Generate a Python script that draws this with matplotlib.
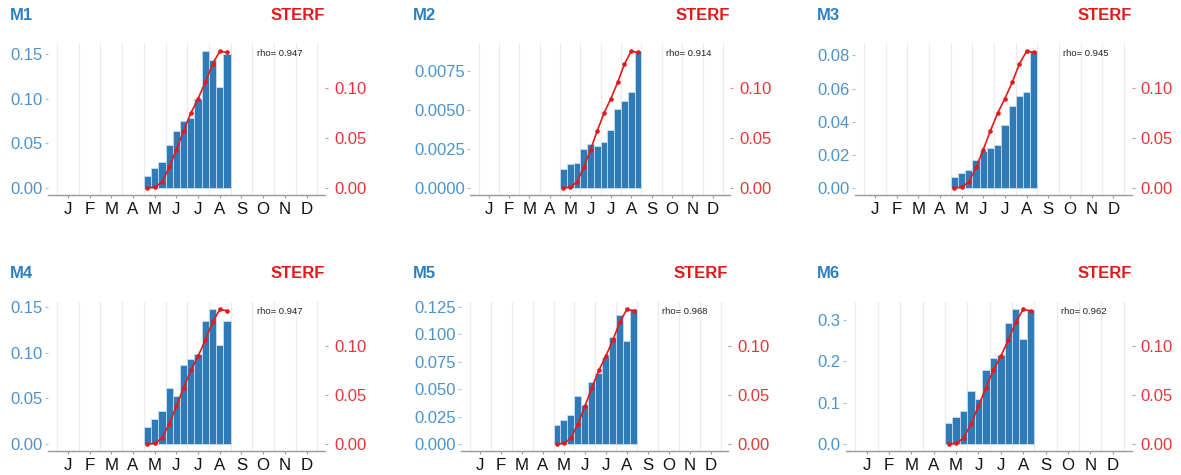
import numpy as np
import matplotlib
matplotlib.use("Agg")
import matplotlib.pyplot as plt
from matplotlib.ticker import FixedLocator

plt.rcParams['font.family'] = ['Liberation Sans', 'DejaVu Sans']

# ---- data ----
month_labels = ['J', 'F', 'M', 'A', 'M', 'J', 'J', 'A', 'S', 'O', 'N', 'D']
first_month = 4            # bars start in May (0 = Jan)
dekads_per_month = 3

sterf = [0.0, 0.0005, 0.006, 0.0205, 0.0385, 0.0575, 0.0752, 0.0897, 0.106, 0.1244, 0.1373, 0.136]

m1 = [0.0136, 0.0219, 0.0288, 0.0483, 0.0643, 0.0746, 0.0781, 0.0995, 0.1537, 0.1438, 0.1136, 0.150]
m2 = [0.00118, 0.00154, 0.00159, 0.0025, 0.00283, 0.00268, 0.00296, 0.00368, 0.00501, 0.00555, 0.0061, 0.00874]
m3 = [0.0067, 0.0091, 0.0105, 0.017, 0.0223, 0.0239, 0.0259, 0.038, 0.0496, 0.0553, 0.0581, 0.0826]
m4 = [0.0187, 0.0269, 0.0366, 0.0607, 0.0528, 0.0865, 0.0926, 0.0987, 0.1346, 0.1472, 0.1084, 0.1346]
m5 = [0.0176, 0.0218, 0.0263, 0.0434, 0.0356, 0.0562, 0.0649, 0.0792, 0.0972, 0.1175, 0.0936, 0.1226]
m6 = [0.0508, 0.065, 0.080, 0.129, 0.108, 0.1786, 0.207, 0.214, 0.292, 0.325, 0.253, 0.324]

model_names = ['M1', 'M2', 'M3', 'M4', 'M5', 'M6']
model_values = [m1, m2, m3, m4, m5, m6]
rho = [0.947, 0.914, 0.945, 0.947, 0.968, 0.962]

left_ticks = [
    [0.0, 0.05, 0.10, 0.15],
    [0.0, 0.0025, 0.005, 0.0075],
    [0.0, 0.02, 0.04, 0.06, 0.08],
    [0.0, 0.05, 0.10, 0.15],
    [0.0, 0.025, 0.05, 0.075, 0.10, 0.125],
    [0.0, 0.1, 0.2, 0.3],
]
left_decimals = [2, 4, 2, 2, 3, 1]
right_ticks = [0.0, 0.05, 0.10]

# ---- styling ----
W, H = 1181, 475
BAR_BLUE = '#2e7bb8'
TITLE_BLUE = '#2f7fbf'
TICK_BLUE = '#4d93cb'
LINE_RED = '#e31a1c'
TICK_RED = '#e8353a'
GRID = '#ebebeb'
AXIS_GRAY = '#9a9a9a'

# panel layout in pixels: (axes left, axes right, axes top, axes bottom, title x)
panels = [
    (48, 325, 43.3, 195, 10),
    (470, 730, 43.3, 195, 413),
    (855, 1131.7, 43.3, 195, 817),
    (48, 325, 301.7, 451, 10),
    (461, 728.3, 301.7, 451, 413),
    (846, 1131.7, 301.7, 451, 817),
]

xlim = (-0.42, 12.35)
right_ylim = (-0.0072, 0.1452)

fig = plt.figure(figsize=(W / 100, H / 100), dpi=100)

x_bars = first_month + (np.arange(len(sterf)) + 0.5) / dekads_per_month

for i, (name, vals) in enumerate(zip(model_names, model_values)):
    x0, x1, y0, y1, tx = panels[i]
    ax = fig.add_axes([x0 / W, 1 - y1 / H, (x1 - x0) / W, (y1 - y0) / H])

    # left axis scaled so the tallest bar sits level with the STERF peak
    k = max(vals) / max(sterf)
    ax.set_xlim(*xlim)
    ax.set_ylim(right_ylim[0] * k, right_ylim[1] * k)

    # vertical month grid
    for b in range(13):
        ax.axvline(b, color=GRID, lw=0.9, zorder=0)

    ax.bar(x_bars, vals, width=1 / dekads_per_month, color=BAR_BLUE,
           edgecolor='#c9dcee', linewidth=0.6, zorder=2)

    for s in ['top', 'left', 'right']:
        ax.spines[s].set_visible(False)
    ax.spines['bottom'].set_color(AXIS_GRAY)
    ax.spines['bottom'].set_linewidth(1.0)

    ax.set_xticks(np.arange(12) + 0.5)
    ax.set_xticklabels(month_labels)
    ax.tick_params(axis='x', length=2.5, width=0.8, color=AXIS_GRAY, pad=2.5,
                   labelsize=12.2, labelcolor='#111111')

    ax.yaxis.set_major_locator(FixedLocator(left_ticks[i]))
    ax.set_yticklabels([f"{t:.{left_decimals[i]}f}" for t in left_ticks[i]])
    ax.tick_params(axis='y', length=2.2, width=0.8, color='#9cc3e3', pad=1.5,
                   labelsize=12, labelcolor=TICK_BLUE)

    ax2 = ax.twinx()
    ax2.set_ylim(*right_ylim)
    ax2.plot(x_bars, sterf, color=LINE_RED, lw=1.2, marker='o', markersize=2.3, zorder=3)
    for s in ax2.spines.values():
        s.set_visible(False)
    ax2.yaxis.set_major_locator(FixedLocator(right_ticks))
    ax2.set_yticklabels([f"{t:.2f}" for t in right_ticks])
    ax2.tick_params(axis='y', length=2.5, width=0.8, color='#f08a8c', pad=4,
                    labelsize=12, labelcolor=TICK_RED)

    ax2.text(9.2, 0.935, f"rho= {rho[i]}", transform=ax2.get_xaxis_transform(),
             fontsize=6.8, color='#222222', ha='left', va='center')

    title_y = 1 - (y0 - 28) / H
    fig.text(tx / W, title_y, name, fontsize=12, fontweight='bold',
             color=TITLE_BLUE, ha='left', va='center')
    fig.text(x1 / W, title_y, 'STERF', fontsize=12, fontweight='bold',
             color=LINE_RED, ha='right', va='center')

fig.savefig('out.png', dpi=100)
